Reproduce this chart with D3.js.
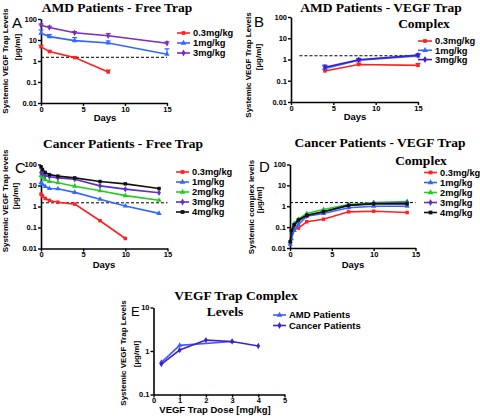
<!DOCTYPE html>
<html><head><meta charset="utf-8">
<script src="https://cdn.jsdelivr.net/npm/d3@7/dist/d3.min.js"></script>
<style>body{margin:0;background:#fff}svg{display:block}</style>
</head><body>
<script>
// ---------- data ----------
const yTickValues = [0.01, 0.1, 1, 10, 100];
const yTickLabels = ["0.01", "0.1", "1", "10", "100"];
const dayTicks = [0, 5, 10, 15];
const threshold = 1.5;

// Panel A: AMD Patients - Free Trap
const aDays03 = [0, 1, 4, 8];
const aFree03 = [4.8, 2.8, 1.45, 0.30];
const aFree03Hi = [5.6, 3.2, 1.6, 0.37];
const aDays = [0, 1, 4, 8, 15];
const aFree1 = [21, 14.5, 9.3, 7.2, 2.1];
const aFree1Hi = [30, 18, 13, 9, 3.8];
const aFree3 = [50, 39, 22, 16, 7];
const aFree3Hi = [58, 45, 25, 20, 8.2];

// Panel B: AMD Patients - VEGF Trap Complex
const bDays = [4, 8, 15];
const bCx03 = [0.29, 0.58, 0.53];
const bCx03Hi = [0.34, 0.68, 0.65];
const bCx1 = [0.38, 0.92, 1.45];
const bCx1Hi = [0.55, 1.05, 1.7];
const bCx3 = [0.43, 0.97, 1.6];
const bCx3Hi = [0.5, 1.1, 1.85];

// Panel C: Cancer Patients - Free Trap
const cDays = [0, 0.17, 0.5, 1, 2, 4, 7, 10, 14];
const cFree03 = [3.9, 3.2, 2.4, 1.95, 1.6, 1.3, 0.21, 0.03];
const cFree1 = [13.4, 11.5, 9, 7.2, 7.0, 4.7, 2.2, 1.05, 0.47];
const cFree2 = [29, 25, 19, 15.5, 13.5, 9.3, 5.6, 3.3, 2.0];
const cFree3 = [41, 36, 30, 26, 23, 20, 9.6, 6.7, 4.5];
const cFree4 = [77, 58, 42, 33, 28, 23, 15.5, 12, 7.2];

// Panel D: Cancer Patients - VEGF Trap Complex
const dDays = [0.04, 0.17, 0.5, 1, 2, 4, 7, 10, 14];
const dCx03 = [0.02, 0.075, 0.08, 0.09, 0.18, 0.24, 0.54, 0.58, 0.5];
const dCx1 = [0.015, 0.028, 0.07, 0.13, 0.33, 0.45, 0.85, 1.0, 1.0];
const dCx2 = [0.02, 0.07, 0.15, 0.24, 0.45, 0.7, 1.2, 1.5, 1.7];
const dCx3 = [0.02, 0.05, 0.12, 0.2, 0.35, 0.55, 1.1, 1.4, 1.5];
const dCx4 = [0.02, 0.07, 0.13, 0.22, 0.37, 0.55, 1.1, 1.3, 1.3];

// Panel E: VEGF Trap Complex Levels
const eAmdDoses = [0.3, 1, 3];
const eAmd = [0.55, 1.35, 1.65];
const eCancerDoses = [0.3, 1, 2, 3, 4];
const eCancer = [0.5, 1.05, 1.78, 1.65, 1.3];
const eDoseTicks = [0, 1, 2, 3, 4, 5];
const eYTicks = [0.1, 1, 10];
const eYTickLabels = ["0.1", "1", "10"];

const doseLabels = ["0.3mg/kg", "1mg/kg", "2mg/kg", "3mg/kg", "4mg/kg"];
const groupLabels = ["AMD Patients", "Cancer Patients"];

// ---------- drawing ----------
const W = 480, H = 416;
const svg = d3.select("body").append("svg").attr("width", W).attr("height", H);
const SANS = "'Liberation Sans', Arial, sans-serif";
const SERIF = "'Liberation Serif', 'Times New Roman', serif";

const RED = "#ff2020", BLUE = "#3366ff", GREEN = "#22cc22", BLACK = "#111111";

function sym(type, size) { return d3.symbol().type(type).size(size)(); }

function panel(cfg) {
  const g = svg.append("g");
  const x = d3.scaleLinear().domain(cfg.xDomain).range([cfg.x0, cfg.x1]);
  const y = d3.scaleLog().domain(cfg.yDomain).range([cfg.y1, cfg.y0]);

  // axes
  const xa = g.append("g").attr("transform", `translate(0,${cfg.y1})`)
    .call(d3.axisBottom(x).tickValues(cfg.xTicks).tickFormat(d3.format("d")).tickSize(3).tickSizeOuter(0));
  const ya = g.append("g").attr("transform", `translate(${cfg.x0},0)`)
    .call(d3.axisLeft(y).tickValues(cfg.yTicks).tickFormat((d, i) => cfg.yTickLabels[i]).tickSize(3).tickSizeOuter(0));
  [xa, ya].forEach(a => {
    a.select(".domain").attr("stroke", "#000").attr("stroke-width", 1.6);
    a.selectAll(".tick line").attr("stroke", "#000").attr("stroke-width", 1.4);
    a.selectAll(".tick text").attr("font-family", SANS).attr("font-weight", "bold")
      .attr("font-size", 7.5).attr("fill", "#000");
  });
  xa.selectAll(".tick text").attr("dy", "0.6em").attr("y", 4);
  ya.selectAll(".tick text").attr("x", -4);

  // threshold dashed line
  if (cfg.dash) {
    g.append("line").attr("x1", x(cfg.dash[0])).attr("x2", x(cfg.dash[1]))
      .attr("y1", y(threshold)).attr("y2", y(threshold))
      .attr("stroke", "#000").attr("stroke-width", 1).attr("stroke-dasharray", "3,2");
  }

  // series
  cfg.series.forEach(s => {
    const pts = s.vals.map((v, i) => ({ x: s.xs[i], y: v, hi: s.hi ? s.hi[i] : null }));
    if (s.hi) {
      pts.forEach(p => {
        g.append("line").attr("x1", x(p.x)).attr("x2", x(p.x)).attr("y1", y(p.y)).attr("y2", y(p.hi))
          .attr("stroke", s.color).attr("stroke-width", 1.2);
        g.append("line").attr("x1", x(p.x) - 2.5).attr("x2", x(p.x) + 2.5).attr("y1", y(p.hi)).attr("y2", y(p.hi))
          .attr("stroke", s.color).attr("stroke-width", 1.2);
      });
    }
    g.append("path").datum(pts)
      .attr("d", d3.line().x(p => x(p.x)).y(p => y(p.y)))
      .attr("fill", "none").attr("stroke", s.color).attr("stroke-width", 1.6);
    g.selectAll(null).data(pts).enter().append("path")
      .attr("transform", p => `translate(${x(p.x)},${y(p.y)})`)
      .attr("d", sym(s.sym, 12)).attr("fill", s.color);
  });

  // legend
  cfg.series.forEach((s, i) => {
    const ly = cfg.legY + i * cfg.legStep;
    g.append("line").attr("x1", cfg.legX).attr("x2", cfg.legX + cfg.legLen).attr("y1", ly).attr("y2", ly)
      .attr("stroke", s.color).attr("stroke-width", 1.6);
    g.append("path").attr("transform", `translate(${cfg.legX + cfg.legLen / 2},${ly})`)
      .attr("d", sym(s.sym, 14)).attr("fill", s.color);
    g.append("text").attr("x", cfg.legX + cfg.legLen + 3).attr("y", ly + 3.3)
      .attr("font-family", SANS).attr("font-weight", "bold").attr("font-size", cfg.legFont || 9.3)
      .attr("fill", "#000").text(s.label);
  });

  // titles
  cfg.title.forEach(t => {
    g.append("text").attr("x", t[1]).attr("y", t[2]).attr("text-anchor", "middle")
      .attr("font-family", SERIF).attr("font-weight", "bold").attr("font-size", 13.5)
      .attr("fill", "#000").text(t[0]);
  });
  // panel letter
  g.append("text").attr("x", cfg.letter[1]).attr("y", cfg.letter[2])
    .attr("font-family", SANS).attr("font-size", cfg.letter[3] || 15).attr("fill", "#000").text(cfg.letter[0]);
  // y labels (rotated)
  cfg.yLabel.forEach(t => {
    g.append("text").attr("transform", `translate(${t[1]},${t[2]}) rotate(-90)`)
      .attr("text-anchor", "middle").attr("font-family", SANS).attr("font-weight", "bold")
      .attr("font-size", 8).attr("fill", "#000").text(t[0]);
  });
  // x label
  g.append("text").attr("x", cfg.xLabel[1]).attr("y", cfg.xLabel[2]).attr("text-anchor", "middle")
    .attr("font-family", SANS).attr("font-weight", "bold").attr("font-size", 9.5)
    .attr("fill", "#000").text(cfg.xLabel[0]);
}

// Panel A
panel({
  x0: 41, x1: 167, y0: 19, y1: 103, xDomain: [0, 15], yDomain: [0.01, 100],
  xTicks: dayTicks, yTicks: yTickValues, yTickLabels: yTickLabels, dash: [0, 15],
  series: [
    { label: doseLabels[0], xs: aDays03, vals: aFree03, hi: aFree03Hi, color: RED, sym: d3.symbolSquare },
    { label: doseLabels[1], xs: aDays, vals: aFree1, hi: aFree1Hi, color: BLUE, sym: d3.symbolTriangle },
    { label: doseLabels[3], xs: aDays, vals: aFree3, hi: aFree3Hi, color: "#7a2db8", sym: d3.symbolDiamond }
  ],
  legX: 177, legY: 33, legStep: 10, legLen: 13,
  title: [["AMD Patients - Free Trap", 117, 12]],
  letter: ["A", 12, 28],
  yLabel: [["Systemic VEGF Trap Levels", 8, 61], ["[µg/ml]", 20, 47]],
  xLabel: ["Days", 105, 121]
});

// Panel B
panel({
  x0: 291, x1: 418, y0: 17, y1: 102, xDomain: [0, 15], yDomain: [0.01, 100],
  xTicks: dayTicks, yTicks: yTickValues, yTickLabels: yTickLabels, dash: [1, 15],
  series: [
    { label: doseLabels[0], xs: bDays, vals: bCx03, hi: bCx03Hi, color: RED, sym: d3.symbolSquare },
    { label: doseLabels[1], xs: bDays, vals: bCx1, hi: bCx1Hi, color: BLUE, sym: d3.symbolTriangle },
    { label: doseLabels[3], xs: bDays, vals: bCx3, hi: bCx3Hi, color: "#3a1fc8", sym: d3.symbolDiamond }
  ],
  legX: 418, legY: 41, legStep: 9.3, legLen: 14,
  title: [["AMD Patients - VEGF Trap", 381, 12], ["Complex", 424, 28]],
  letter: ["B", 254, 27],
  yLabel: [["Systemic VEGF Trap Levels", 251, 65], ["[µg/ml]", 261, 57]],
  xLabel: ["Days", 355, 120]
});

// Panel C
panel({
  x0: 41, x1: 167.5, y0: 164.5, y1: 248.5, xDomain: [0, 15], yDomain: [0.01, 100],
  xTicks: dayTicks, yTicks: yTickValues, yTickLabels: yTickLabels, dash: [0, 15],
  series: [
    { label: doseLabels[0], xs: cDays, vals: cFree03, color: RED, sym: d3.symbolSquare },
    { label: doseLabels[1], xs: cDays, vals: cFree1, color: BLUE, sym: d3.symbolTriangle },
    { label: doseLabels[2], xs: cDays, vals: cFree2, color: GREEN, sym: d3.symbolTriangle },
    { label: doseLabels[3], xs: cDays, vals: cFree3, color: "#5a2fcc", sym: d3.symbolDiamond },
    { label: doseLabels[4], xs: cDays, vals: cFree4, color: BLACK, sym: d3.symbolSquare }
  ],
  legX: 176, legY: 172, legStep: 10, legLen: 13,
  title: [["Cancer Patients - Free Trap", 123, 148]],
  letter: ["C", 15, 173],
  yLabel: [["Systemic VEGF Trap levels", 8, 201], ["[µg/ml]", 18, 196]],
  xLabel: ["Days", 104, 268]
});

// Panel D
panel({
  x0: 290, x1: 415.5, y0: 164.5, y1: 248, xDomain: [0, 15], yDomain: [0.01, 100],
  xTicks: dayTicks, yTicks: yTickValues, yTickLabels: yTickLabels, dash: [0, 15],
  series: [
    { label: doseLabels[0], xs: dDays, vals: dCx03, color: RED, sym: d3.symbolSquare },
    { label: doseLabels[1], xs: dDays, vals: dCx1, color: BLUE, sym: d3.symbolTriangle },
    { label: doseLabels[2], xs: dDays, vals: dCx2, color: GREEN, sym: d3.symbolTriangle },
    { label: doseLabels[3], xs: dDays, vals: dCx3, color: "#5a30c0", sym: d3.symbolDiamond },
    { label: doseLabels[4], xs: dDays, vals: dCx4, color: BLACK, sym: d3.symbolSquare }
  ],
  legX: 424, legY: 172.5, legStep: 10, legLen: 13,
  title: [["Cancer Patients - VEGF Trap", 380, 147], ["Complex", 421, 165]],
  letter: ["D", 259, 172],
  yLabel: [["Systemic complex levels", 254, 207], ["[µg/ml]", 262, 200]],
  xLabel: ["Days", 353, 268]
});

// Panel E
panel({
  x0: 153.5, x1: 284.5, y0: 307.5, y1: 394.5, xDomain: [0, 5], yDomain: [0.1, 10],
  xTicks: eDoseTicks, yTicks: eYTicks, yTickLabels: eYTickLabels, dash: null,
  series: [
    { label: groupLabels[0], xs: eAmdDoses, vals: eAmd, color: "#3d5cff", sym: d3.symbolTriangle },
    { label: groupLabels[1], xs: eCancerDoses, vals: eCancer, color: "#4020c8", sym: d3.symbolDiamond }
  ],
  legX: 273, legY: 315, legStep: 10.5, legLen: 13, legFont: 9.5,
  title: [["VEGF Trap Complex", 236, 300], ["Levels", 225, 316]],
  letter: ["E", 131, 316, 13],
  yLabel: [["Systemic VEGF Trap Levels", 126, 353], ["[µg/ml]", 139, 354]],
  xLabel: ["VEGF Trap Dose [mg/kg]", 215, 413]
});
</script>
</body></html>
